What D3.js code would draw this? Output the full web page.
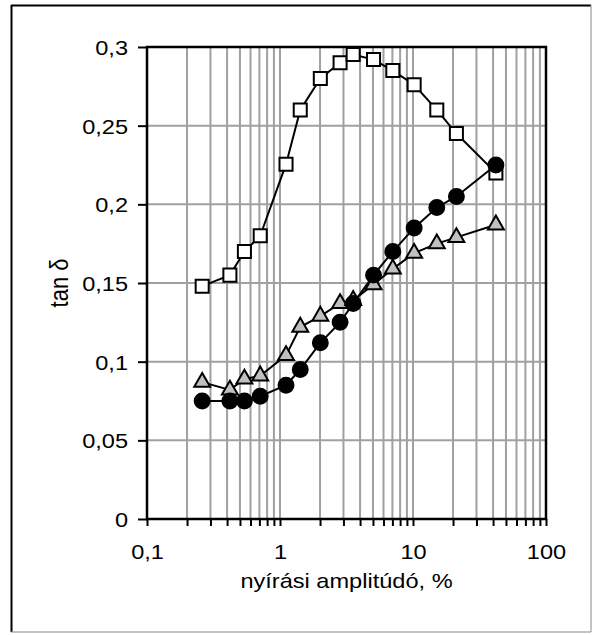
<!DOCTYPE html>
<html><head><meta charset="utf-8">
<script src="https://cdn.jsdelivr.net/npm/d3@7"></script>
<style>body{margin:0;background:#fff}svg{display:block}text{font-family:"Liberation Sans",Arial,sans-serif;fill:#000}</style>
</head><body><div id="chart"></div>
<script>
const amplitude = [0.26, 0.42, 0.54, 0.71, 1.11, 1.42, 2.01, 2.83, 3.55, 5.05, 7.05, 10.2, 15.1, 21.2, 42];
const squares   = [0.148, 0.155, 0.170, 0.180, 0.2255, 0.260, 0.280, 0.290, 0.2952, 0.292, 0.285, 0.276, 0.260, 0.245, 0.220];
const circles   = [0.075, 0.075, 0.075, 0.078, 0.085, 0.095, 0.112, 0.125, 0.137, 0.155, 0.170, 0.185, 0.198, 0.205, 0.225];
const triangles = [0.087, 0.082, 0.089, 0.091, 0.104, 0.122, 0.129, 0.137, 0.139, 0.149, 0.159, 0.169, 0.175, 0.179, 0.187];
const yTicks = [0, 0.05, 0.1, 0.15, 0.2, 0.25, 0.3];
const xTicks = [0.1, 1, 10, 100];
const xTitle = "nyírási amplitúdó, %";
const yTitle = "tan δ";

const W = 593, H = 635;
const L = 147, R = 546, T = 47, B = 519;
const FS = 20.5, SX = 1.15;
const svg = d3.select("#chart").append("svg").attr("width", W).attr("height", H);
const fmt = v => String(v).replace(".", ",");

// outer frame
svg.append("line").attr("x1", 11).attr("x2", 591).attr("y1", 5.5).attr("y2", 5.5).attr("stroke", "#000").attr("stroke-width", 2);
svg.append("line").attr("x1", 11.5).attr("x2", 11.5).attr("y1", 5).attr("y2", 632).attr("stroke", "#000").attr("stroke-width", 2);
svg.append("line").attr("x1", 591).attr("x2", 591).attr("y1", 5).attr("y2", 632).attr("stroke", "#888").attr("stroke-width", 1);
svg.append("line").attr("x1", 11).attr("x2", 591).attr("y1", 632).attr("y2", 632).attr("stroke", "#888").attr("stroke-width", 1);

const x = d3.scaleLog().domain([0.1, 100]).range([L, R]);
const y = d3.scaleLinear().domain([0, 0.3]).range([B, T]);

// minor + major gridlines
const gridX = [];
for (let d = 0.1; d < 100; d *= 10) for (let k = 1; k <= 9; k++) gridX.push(+(d * k).toPrecision(3));
gridX.push(100);
svg.append("g").selectAll("line").data(gridX.filter(v => v > 0.1 && v < 100)).join("line")
  .attr("x1", d => x(d)).attr("x2", d => x(d)).attr("y1", T).attr("y2", B)
  .attr("stroke", "#a0a0a0").attr("stroke-width", 2);
svg.append("g").selectAll("line").data(yTicks.filter(v => v > 0 && v < 0.3)).join("line")
  .attr("x1", L).attr("x2", R).attr("y1", d => y(d)).attr("y2", d => y(d))
  .attr("stroke", "#a0a0a0").attr("stroke-width", 2);

// plot frame
svg.append("rect").attr("x", L).attr("y", T).attr("width", R - L).attr("height", B - T)
  .attr("fill", "none").attr("stroke", "#000").attr("stroke-width", 2.5);

// x axis
const xAxis = d3.axisBottom(x).tickValues(gridX).tickSize(7).tickFormat(d => xTicks.includes(d) ? fmt(d) : "");
const gx = svg.append("g").attr("transform", `translate(0,${B})`).call(xAxis);
gx.select(".domain").remove();
gx.selectAll(".tick line").attr("stroke", "#000").attr("stroke-width", 2);
gx.selectAll(".tick text").attr("font-size", FS).attr("dy", 0).attr("y", 0)
  .attr("transform", `translate(0,40) scale(${SX},1)`)
  .style("font-family", '"Liberation Sans",Arial,sans-serif');

// y axis
const yAxis = d3.axisLeft(y).tickValues(yTicks).tickSize(9).tickPadding(10).tickFormat(fmt);
const gy = svg.append("g").attr("transform", `translate(${L},0)`).call(yAxis);
gy.select(".domain").remove();
gy.selectAll(".tick line").attr("stroke", "#000").attr("stroke-width", 2);
gy.selectAll(".tick text").attr("font-size", FS).attr("dy", "0.36em").attr("x", 0)
  .attr("transform", `translate(-19,0) scale(${SX},1)`)
  .style("font-family", '"Liberation Sans",Arial,sans-serif');

// titles
svg.append("text").attr("transform", `translate(${(L + R) / 2},588) scale(${SX},1)`).attr("text-anchor", "middle")
  .attr("font-size", FS).text(xTitle);
svg.append("text").attr("transform", `translate(68,${(T + B) / 2}) rotate(-90) scale(1,${SX})`).attr("text-anchor", "middle")
  .attr("font-size", 22).text(yTitle);

const line = d3.line().x((d, i) => x(amplitude[i])).y(d => y(d));
const series = [
  {vals: squares, shape: d3.symbolSquare, size: 170, fill: "#fff"},
  {vals: triangles, shape: d3.symbolTriangle, size: 110, fill: "#c0c0c0"},
  {vals: circles, shape: d3.symbolCircle, size: 175, fill: "#000"}
];
series.forEach(s => {
  svg.append("path").datum(s.vals).attr("d", line).attr("fill", "none")
    .attr("stroke", "#000").attr("stroke-width", 2);
});
series.forEach(s => {
  const sym = d3.symbol().type(s.shape).size(s.size);
  svg.append("g").selectAll("path").data(s.vals).join("path")
    .attr("d", sym)
    .attr("transform", (d, i) => `translate(${x(amplitude[i])},${y(d)})`)
    .attr("fill", s.fill).attr("stroke", "#000").attr("stroke-width", 2);
});
</script></body></html>
